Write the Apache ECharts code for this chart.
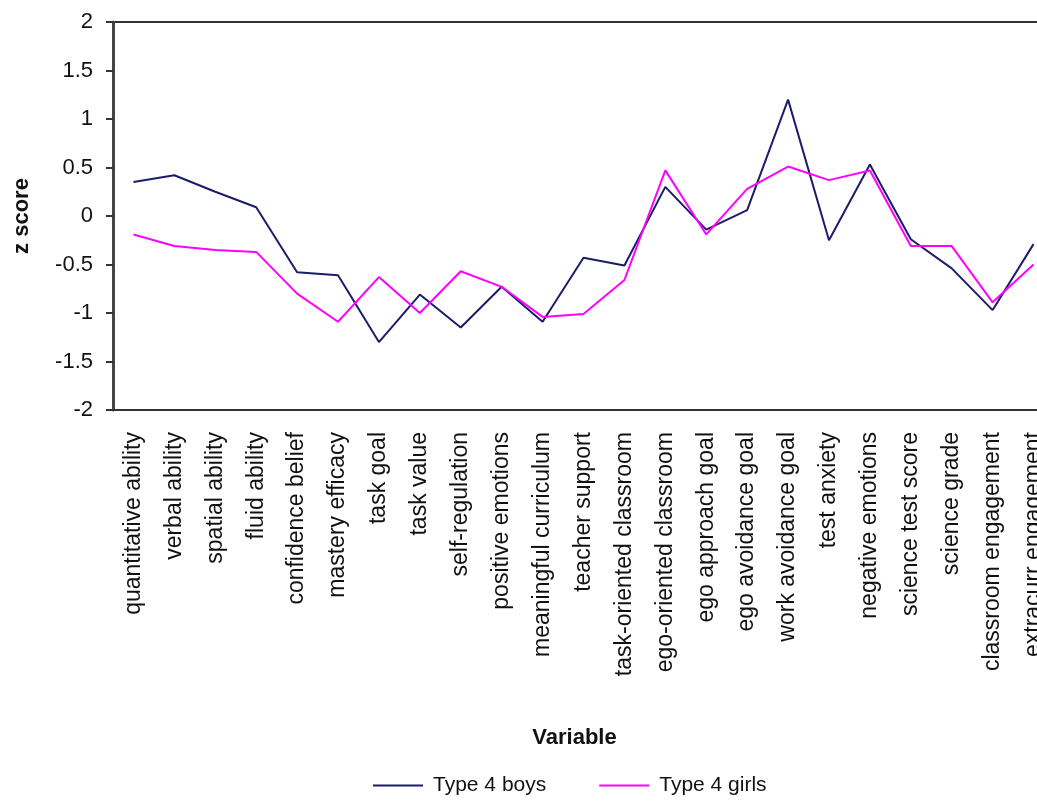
<!DOCTYPE html>
<html>
<head>
<meta charset="utf-8">
<script src="https://cdn.jsdelivr.net/npm/echarts@6/dist/echarts.min.js"></script>
<style>
  html, body { margin: 0; padding: 0; background: #fff; }
  #main { width: 1037px; height: 801px; }
</style>
</head>
<body>
<div id="main"></div>
<script>
// categories on the x axis
var variables = [
  'quantitative ability', 'verbal ability', 'spatial ability', 'fluid ability',
  'confidence belief', 'mastery efficacy', 'task goal', 'task value',
  'self-regulation', 'positive emotions', 'meaningful curriculum', 'teacher support',
  'task-oriented classroom', 'ego-oriented classroom', 'ego approach goal',
  'ego avoidance goal', 'work avoidance goal', 'test anxiety', 'negative emotions',
  'science test score', 'science grade', 'classroom engagement', 'extracurr engagement'
];

// z scores
var boys = [0.35, 0.42, 0.25, 0.09, -0.58, -0.61, -1.3, -0.81, -1.15, -0.73, -1.09, -0.43,
  -0.51, 0.30, -0.14, 0.06, 1.2, -0.25, 0.53, -0.24, -0.54, -0.97, -0.29];
var girls = [-0.19, -0.31, -0.35, -0.37, -0.8, -1.09, -0.63, -1.0, -0.57, -0.73, -1.04, -1.01,
  -0.66, 0.47, -0.19, 0.28, 0.51, 0.37, 0.47, -0.31, -0.31, -0.89, -0.5];

var font = 'Liberation Sans, Arial, sans-serif';

var myChart = echarts.init(document.getElementById('main'));
myChart.setOption({
  animation: false,
  // plot runs past the right edge, as in the cropped original
  grid: {
    left: 113, top: 22, width: 941, height: 388,
    outerBoundsMode: 'none',
    show: true, borderColor: '#333', borderWidth: 2, backgroundColor: 'transparent'
  },
  legend: {
    bottom: 0,
    left: 368,
    itemWidth: 50,
    itemGap: 53,
    icon: 'path://M0,0 L50,0 L50,2 L0,2 Z',
    textStyle: { fontFamily: font, fontSize: 21, color: '#111', padding: [0, 0, 0, 5] },
    data: ['Type 4 boys', 'Type 4 girls']
  },
  xAxis: {
    type: 'category',
    data: variables,
    boundaryGap: true,
    name: 'Variable',
    nameLocation: 'middle',
    nameGap: 317,
    nameTextStyle: {
      fontFamily: font, fontSize: 22, fontWeight: 'bold', color: '#111',
      padding: [0, 18, 0, 0]
    },
    axisLine: { onZero: false, lineStyle: { color: '#333', width: 2 } },
    axisTick: { show: false },
    axisLabel: {
      rotate: 90, interval: 0, margin: 22,
      fontFamily: font, fontSize: 23, color: '#111'
    },
    splitLine: { show: false }
  },
  yAxis: {
    type: 'value',
    min: -2, max: 2, interval: 0.5,
    name: 'z score',
    nameLocation: 'middle',
    nameGap: 80,
    nameTextStyle: { fontFamily: font, fontSize: 22, fontWeight: 'bold', color: '#111' },
    axisLine: { show: true, lineStyle: { color: '#444', width: 3 } },
    axisTick: { show: true, length: 7, lineStyle: { color: '#333', width: 2 } },
    axisLabel: { fontFamily: font, fontSize: 22, color: '#111', margin: 20 },
    splitLine: { show: false }
  },
  series: [
    {
      name: 'Type 4 boys',
      type: 'line',
      data: boys,
      symbol: 'none',
      itemStyle: { color: '#1c1c6b' },
      lineStyle: { color: '#1c1c6b', width: 2 }
    },
    {
      name: 'Type 4 girls',
      type: 'line',
      data: girls,
      symbol: 'none',
      itemStyle: { color: '#ff00ff' },
      lineStyle: { color: '#ff00ff', width: 2 }
    }
  ]
});
</script>
</body>
</html>
